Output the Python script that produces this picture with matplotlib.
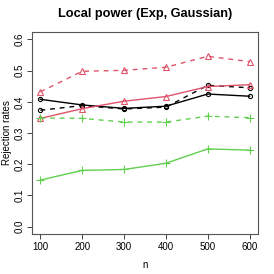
import numpy as np
import matplotlib
matplotlib.use('Agg')
import matplotlib.pyplot as plt

# sample sizes
n_vals = [100, 200, 300, 400, 500, 600]

# rejection rates per method
black_solid = [0.408, 0.390, 0.379, 0.386, 0.425, 0.418]
black_dash = [0.373, 0.388, 0.377, 0.383, 0.453, 0.445]
red_solid = [0.347, 0.378, 0.402, 0.417, 0.449, 0.455]
red_dash = [0.432, 0.498, 0.501, 0.511, 0.546, 0.529]
green_solid = [0.149, 0.180, 0.183, 0.203, 0.249, 0.245]
green_dash = [0.348, 0.347, 0.335, 0.335, 0.354, 0.349]

yticks = [0.0, 0.1, 0.2, 0.3, 0.4, 0.5, 0.6]

red = '#DF536B'
green = '#61D04F'

plt.rcParams['font.family'] = ['Liberation Sans', 'DejaVu Sans']

fig = plt.figure(figsize=(2.74, 2.74), dpi=100)
ax = fig.add_axes([32/274, 40/274, 226/274, 202/274])

dash = (0, (3.5, 3.5))
ax.plot(n_vals, black_solid, color='black', lw=1.0, marker='o', mfc='none', ms=3.0, mew=0.8)
ax.plot(n_vals, black_dash, color='black', lw=1.0, ls=dash, marker='o', mfc='none', ms=3.0, mew=0.8)
ax.plot(n_vals, red_solid, color=red, lw=1.0, marker='^', mfc='none', ms=4.0, mew=0.8)
ax.plot(n_vals, red_dash, color=red, lw=1.0, ls=dash, marker='^', mfc='none', ms=4.0, mew=0.8)
ax.plot(n_vals, green_solid, color=green, lw=1.0, marker='+', ms=5.5, mew=0.8)
ax.plot(n_vals, green_dash, color=green, lw=1.0, ls=dash, marker='+', ms=5.5, mew=0.8)

ax.set_xlim(80, 620)
ax.set_ylim(-0.024, 0.624)
ax.set_xticks(n_vals)
ax.set_yticks(yticks)
ax.set_yticklabels([f'{v:.1f}' for v in yticks], rotation=90, va='center')
ax.tick_params(labelsize=7, length=3.5, width=0.7, color='#444444', pad=2)
for s in ax.spines.values():
    s.set_linewidth(0.8)
    s.set_color('#555555')

ax.set_title('Local power (Exp, Gaussian)', fontsize=9.2, fontweight='bold', pad=11)
ax.set_xlabel('n', fontsize=7, labelpad=6)
ax.set_ylabel('Rejection rates', fontsize=7, labelpad=2)

fig.savefig('out.png', dpi=100)
